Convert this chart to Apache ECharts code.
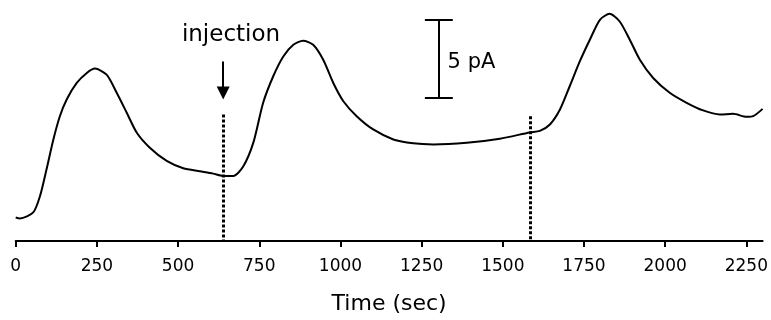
<!DOCTYPE html>
<html>
<head>
<meta charset="utf-8">
<script src="https://cdn.jsdelivr.net/npm/echarts@6/dist/echarts.min.js"></script>
<style>html,body{margin:0;padding:0;background:#fff;}#c{width:771px;height:320px;}</style>
</head>
<body>
<div id="c"></div>
<script>
// Time (sec)
const timeSec = [0,13,54,75,95,116,136,157,188,219,244,280,311,342,373,413,465,516,567,608,639,670,701,732,762,793,824,855,885,916,947,978,1009,1050,1101,1163,1224,1286,1389,1491,1583,1614,1645,1676,1706,1737,1768,1799,1829,1860,1891,1922,1963,2014,2066,2117,2168,2209,2251,2271,2300];
// Current (pA, relative baseline)
const currentPA = [1.51,1.45,1.83,2.89,4.60,6.51,8.00,9.07,10.13,10.77,11.05,10.66,9.50,8.22,6.94,5.98,5.13,4.66,4.47,4.32,4.17,4.17,4.79,6.32,8.86,10.56,11.83,12.58,12.84,12.58,11.62,10.13,8.96,8.00,7.15,6.51,6.26,6.19,6.30,6.56,6.96,7.06,7.47,8.43,9.92,11.51,12.90,14.18,14.56,14.07,12.90,11.62,10.45,9.50,8.86,8.37,8.11,8.15,7.96,8.00,8.47];
const xTicks = [0,250,500,750,1000,1250,1500,1750,2000,2250];
// dotted event markers: [time, top value]
const markerTimes = [639,1583];
const markerTops = [8.11,8.0];
// injection arrow (time, top, tip)
const arrowTime = 639, arrowTop = 11.51, arrowTip = 9.07;
// scale bar: 5 pA
const scaleTime = 1303, scaleHalfWidth = 43, scaleBottom = 9.18, scaleSize = 5;

const curve = timeSec.map((t,i)=>[t,currentPA[i]]);
const chart = echarts.init(document.getElementById('c'), null, {renderer:'canvas'});
const FONT = 'DejaVu Sans';
const headPx = 13, pxPerPA = 234/15;
chart.setOption({
  animation:false,
  backgroundColor:'#fff',
  grid:{left:15.7, right:8, top:7, bottom:78, containLabel:false},
  xAxis:{
    type:'value', min:0, max:2300, interval:250,
    name:'Time (sec)', nameLocation:'middle', nameGap:52,
    nameTextStyle:{fontFamily:FONT, fontSize:22, color:'#000'},
    axisLine:{show:true, onZero:false, lineStyle:{color:'#000', width:2}},
    axisTick:{show:true, length:6, lineStyle:{color:'#000', width:2}, customValues:xTicks},
    axisLabel:{fontFamily:FONT, fontSize:17, color:'#000', margin:17, customValues:xTicks, formatter:v=>String(v)},
    splitLine:{show:false}
  },
  yAxis:{type:'value', min:0, max:15, show:false, splitLine:{show:false}},
  series:[
    {type:'line', data:curve, smooth:0.25, symbol:'none', lineStyle:{color:'#000', width:2}, z:3},
    {type:'line', data:[], symbol:'none',
      markLine:{silent:true, symbol:['none','none'], label:{show:false},
        lineStyle:{color:'#000', width:3, type:[3,2]},
        data: markerTimes.map((t,i)=>[{coord:[t,markerTops[i]]},{coord:[t,0]}])}},
    {type:'line', data:[], symbol:'none',
      markLine:{silent:true, symbol:['none','none'], label:{show:false},
        lineStyle:{color:'#000', width:2, type:'solid'},
        data:[
          [{coord:[scaleTime,scaleBottom]},{coord:[scaleTime,scaleBottom+scaleSize]}],
          [{coord:[scaleTime-scaleHalfWidth,scaleBottom]},{coord:[scaleTime+scaleHalfWidth,scaleBottom]}],
          [{coord:[scaleTime-scaleHalfWidth,scaleBottom+scaleSize]},{coord:[scaleTime+scaleHalfWidth,scaleBottom+scaleSize]}]
        ]}},
    {type:'line', data:[], symbol:'none',
      markLine:{silent:true, symbol:['none','triangle'], symbolSize:[13,headPx], label:{show:false},
        lineStyle:{color:'#000', width:2, type:'solid'}, itemStyle:{color:'#000'},
        data:[[{coord:[arrowTime,arrowTop]},{coord:[arrowTime,arrowTip+headPx/2/pxPerPA]}]]}},
    {type:'scatter', symbolSize:0, silent:true, itemStyle:{opacity:1},
      data:[{value:[663,13.2], label:{show:true, formatter:'injection', position:'inside', fontSize:23, fontFamily:FONT, color:'#000', opacity:1}},
            {value:[1330,11.43], label:{show:true, formatter:'5 pA', position:'right', distance:0, fontSize:21, fontFamily:FONT, color:'#000', opacity:1}}]}
  ]
});
</script>
</body>
</html>
